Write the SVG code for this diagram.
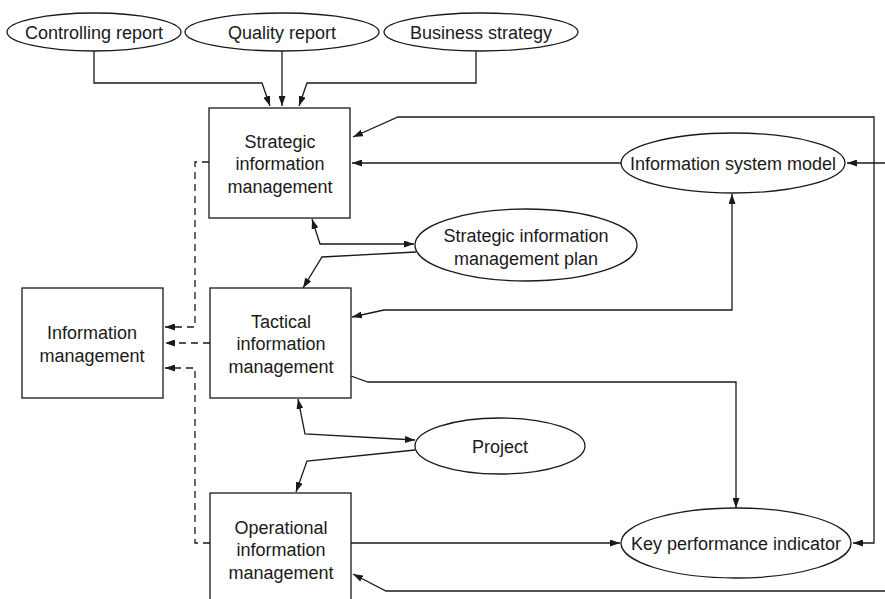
<svg xmlns="http://www.w3.org/2000/svg" width="885" height="599" viewBox="0 0 885 599">
<style>
.n{fill:#fff;stroke:#1a1a1a;stroke-width:1.3}
.t{font-family:"Liberation Sans",Arial,sans-serif;font-size:18px;fill:#1a1a1a;text-anchor:middle}
.c{fill:none;stroke:#1a1a1a;stroke-width:1.3}
.d{fill:none;stroke:#1a1a1a;stroke-width:1.3;stroke-dasharray:7,5}
.e{marker-end:url(#ah)}
.s{marker-start:url(#ah)}
</style>
<defs>
<marker id="ah" markerUnits="userSpaceOnUse" markerWidth="10" markerHeight="7" refX="10" refY="3.5" orient="auto-start-reverse">
<path d="M0,0 L10,3.5 L0,7 z" fill="#1a1a1a"/>
</marker>
</defs>
<rect width="885" height="599" fill="#fff"/>
<g id="connectors">
<polyline class="c e" points="94,51 94,83 262,83 270,106"/>
<polyline class="c e" points="282,51 282,106"/>
<polyline class="c e" points="476,51 476,83 307,83 299,106"/>
<polyline class="c s e" points="353,137 398,117 874,117 874,543 853,543"/>
<polyline class="c e" points="621,163 352,163"/>
<polyline class="c e" points="885,163 847,163"/>
<polyline class="c s e" points="312,219 320,244 414,244"/>
<polyline class="c e" points="416,252 322,257 303,288"/>
<polyline class="c s e" points="732,194 732,310 384,310 352,317"/>
<polyline class="c e" points="351,376 368,382 736,382 736,508"/>
<polyline class="c s e" points="298,399 305,434 415,440"/>
<polyline class="c e" points="415,450 307,461 296,492"/>
<polyline class="c e" points="351,543 620,543"/>
<polyline class="c e" points="885,591 386,591 353,574"/>
<path class="d e" d="M209,162 H195 V327 H165"/>
<path class="d e" d="M210,343 H165"/>
<path class="d e" d="M210,543 H195 V368 H165"/>
</g>
<g id="controlling-report">
<ellipse class="n" cx="94" cy="32" rx="87" ry="19"/>
<text class="t" x="94" y="38.5">Controlling report</text>
</g>
<g id="quality-report">
<ellipse class="n" cx="282" cy="32" rx="97" ry="19"/>
<text class="t" x="282" y="38.5">Quality report</text>
</g>
<g id="business-strategy">
<ellipse class="n" cx="481" cy="32" rx="97" ry="19"/>
<text class="t" x="481" y="38.5">Business strategy</text>
</g>
<g id="strategic-im">
<rect class="n" x="209" y="108" width="141" height="110"/>
<text class="t" x="280" y="147.5">Strategic</text>
<text class="t" x="280" y="169.5">information</text>
<text class="t" x="280" y="192.5">management</text>
</g>
<g id="tactical-im">
<rect class="n" x="210" y="288" width="141" height="110"/>
<text class="t" x="281" y="327.5">Tactical</text>
<text class="t" x="281" y="349.5">information</text>
<text class="t" x="281" y="372.5">management</text>
</g>
<g id="operational-im">
<rect class="n" x="210" y="493" width="141" height="110"/>
<text class="t" x="281" y="533.5">Operational</text>
<text class="t" x="281" y="555.5">information</text>
<text class="t" x="281" y="578.5">management</text>
</g>
<g id="information-management">
<rect class="n" x="22" y="288" width="141" height="110"/>
<text class="t" x="92" y="338.5">Information</text>
<text class="t" x="92" y="361.5">management</text>
</g>
<g id="sim-plan">
<ellipse class="n" cx="526" cy="245" rx="111" ry="36"/>
<text class="t" x="526" y="241.5">Strategic information</text>
<text class="t" x="526" y="264.5">management plan</text>
</g>
<g id="information-system-model">
<ellipse class="n" cx="733" cy="163" rx="112" ry="30"/>
<text class="t" x="733" y="169.5">Information system model</text>
</g>
<g id="project">
<ellipse class="n" cx="500" cy="446" rx="85" ry="28"/>
<text class="t" x="500" y="452.5">Project</text>
</g>
<g id="kpi">
<ellipse class="n" cx="736" cy="543" rx="115" ry="35"/>
<text class="t" x="736" y="549.5">Key performance indicator</text>
</g>
</svg>
